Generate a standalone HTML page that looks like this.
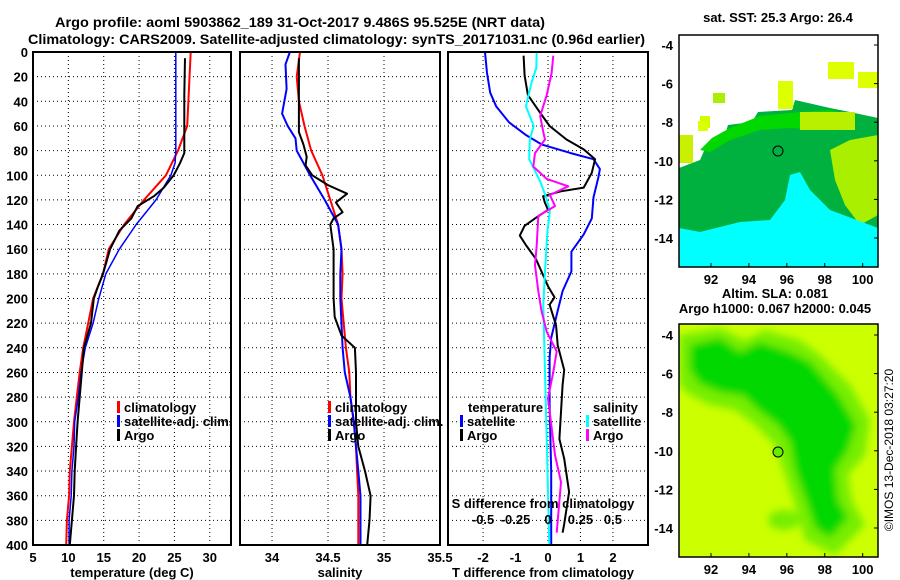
<!DOCTYPE html>
<html><head><meta charset="utf-8"><style>
html,body{margin:0;padding:0;background:#fff}
svg{display:block;font-family:"Liberation Sans",sans-serif;font-weight:bold}
</style></head><body>
<svg id="c" width="900" height="580" viewBox="0 0 900 580">
<text x="55" y="27" font-size="14" textLength="490" lengthAdjust="spacingAndGlyphs">Argo profile: aoml 5903862_189 31-Oct-2017 9.486S 95.525E (NRT data)</text>
<text x="28" y="44" font-size="14" textLength="617" lengthAdjust="spacingAndGlyphs">Climatology: CARS2009. Satellite-adjusted climatology: synTS_20171031.nc (0.96d earlier)</text>
<g id="maps">
 <text x="778" y="22" font-size="13" text-anchor="middle">sat. SST: 25.3 Argo: 26.4</text>
 <g>
  <rect x="679" y="35" width="199" height="232" fill="#fff"/>
  <polygon fill="#00b140" points="679,168 700,160 708,142 725,135 728,125 752,122 758,112 792,110 795,100 830,108 850,112 878,118 878,267 679,267"/>
  <polygon fill="#00d800" points="700,150 712,138 730,128 760,116 800,112 830,110 850,115 850,125 820,130 790,128 760,130 730,140 710,152"/>
  <polygon fill="#aaee00" points="830,150 850,140 878,135 878,215 860,225 845,205 835,180"/>
  <polygon fill="#00ffff" points="679,267 679,228 700,232 740,222 770,220 785,200 790,175 800,172 810,190 830,210 870,225 878,228 878,267"/>
  <rect x="679" y="135" width="14" height="28" fill="#c8f000"/>
  <rect x="700" y="116" width="10" height="12" fill="#ccff00"/>
  <rect x="713" y="93" width="12" height="10" fill="#aaee00"/>
  <rect x="698" y="121" width="10" height="10" fill="#ddff00"/>
  <rect x="778" y="81" width="15" height="28" fill="#ddff00"/>
  <rect x="828" y="62" width="26" height="17" fill="#ddff00"/>
  <rect x="858" y="72" width="20" height="16" fill="#ddff00"/>
  <rect x="800" y="112" width="55" height="18" fill="#b8f000"/>
  <circle cx="778" cy="151" r="5" fill="none" stroke="#000" stroke-width="1"/>
  <rect x="679" y="35" width="199" height="232" fill="none" stroke="#000" stroke-width="1.5"/>
 </g>
 <text x="775" y="298" font-size="13" text-anchor="middle">Altim. SLA: 0.081</text>
 <text x="775" y="313" font-size="13" text-anchor="middle">Argo h1000: 0.067 h2000: 0.045</text>
 <g>
  <defs><filter id="bl"><feGaussianBlur stdDeviation="4"/></filter><clipPath id="cp2"><rect x="679" y="324" width="199" height="233"/></clipPath></defs>
  <rect x="679" y="324" width="199" height="233" fill="#ccff00"/>
  <g clip-path="url(#cp2)" filter="url(#bl)">
   <polygon fill="#77ee00" points="679,335 720,328 745,340 765,330 800,340 820,355 850,385 870,420 865,455 848,475 852,500 865,525 835,555 805,540 795,505 785,475 775,445 755,425 735,410 710,405 690,395 679,385"/>
   <polygon fill="#00d800" points="690,345 720,338 740,352 760,342 790,352 810,362 838,395 856,425 848,450 835,470 838,500 848,518 830,538 815,528 805,498 795,470 790,442 778,425 758,410 744,396 720,392 700,384 690,370"/>
   <ellipse cx="784" cy="520" rx="16" ry="10" fill="#77ee00"/>
  </g>
  <circle cx="778" cy="452" r="5" fill="#66ee00" stroke="#000" stroke-width="1"/>
  <rect x="679" y="324" width="199" height="233" fill="none" stroke="#000" stroke-width="1.5"/>
 </g>
 <text transform="translate(893,450) rotate(-90)" font-size="12" font-weight="normal" text-anchor="middle">©IMOS 13-Dec-2018 03:27:20</text>
</g>
</svg>
<script>
// ---- profile data (depth in m) ----
const climDepth=[0,60,80,100,120,140,160,180,200,220,240,260,280,300,320,340,360,380,400];
const climTemp=[27.3,26.8,25.5,23.8,20.7,17.9,15.7,14.9,13.5,12.8,12.1,11.6,11.2,10.8,10.5,10.2,10.1,9.8,9.7];
const satDepth=[0,80,90,100,120,140,160,180,200,220,240,260,280,300,320,340,360,380,400];
const satTemp=[25.2,25.2,25.1,24.5,22.4,19.6,17.2,15.3,14.3,13.5,12.4,11.8,11.4,10.9,10.8,10.5,10.4,10.1,10.1];
const argoDepth=[5,35,82,90,100,110,117,125,135,145,160,180,190,200,220,240,260,280,300,320,340,360,380,400];
const argoTemp=[26.5,26.4,26.4,25.8,24.9,23.5,22.1,19.8,18.9,17.2,15.9,14.9,14.2,13.6,13.2,12.2,11.9,11.6,11.3,11.1,10.9,10.8,10.5,10.2];
const climSalDepth=[0,20,40,60,80,100,120,140,160,180,200,220,240,260,280,300,320,340,360,380,400];
const climSal=[34.25,34.22,34.24,34.29,34.35,34.45,34.52,34.59,34.62,34.63,34.62,34.64,34.66,34.69,34.70,34.73,34.75,34.76,34.77,34.77,34.77];
const satSalDepth=[0,10,30,50,60,70,80,90,100,120,140,160,180,200,240,260,280,300,320,340,360,400];
const satSal=[34.16,34.12,34.13,34.09,34.14,34.21,34.22,34.28,34.34,34.47,34.59,34.62,34.61,34.61,34.63,34.65,34.70,34.73,34.75,34.77,34.79,34.79];
const argoSalDepth=[5,65,75,85,92,100,108,115,122,130,135,140,160,180,200,215,230,240,260,300,320,340,360,380,400];
const argoSal=[34.24,34.24,34.28,34.31,34.30,34.36,34.50,34.67,34.57,34.63,34.55,34.52,34.55,34.55,34.55,34.56,34.62,34.74,34.75,34.75,34.77,34.83,34.88,34.87,34.85];
const dTsatDepth=[0,17,33,44,57,67,75,82,87,95,102,118,135,148,162,178,194,210,232,248,286,340,400];
const dTsat=[-1.94,-1.88,-1.78,-1.6,-1.2,-0.7,-0.2,0.7,1.4,1.6,1.55,1.4,1.35,1.1,0.72,0.72,0.45,0.3,0.1,0.05,0.05,0.1,0.1];
const dTargoDepth=[3,19,35,49,60,71,79,87,98,110,113,117,122,128,135,141,149,157,168,190,199,205,222,238,258,270,314,330,357,383,390];
const dTargo=[-0.75,-0.72,-0.62,-0.25,0.05,0.57,1.1,1.45,1.35,1.1,0.4,-0.15,-0.1,0,-0.4,-0.72,-0.87,-0.67,-0.37,0,0.2,0.05,0.25,0.3,0.5,0.45,0.35,0.5,0.65,0.5,0.45];
const dSsatDepth=[0,13,24,44,60,71,87,105,118,129,146,178,205,260,314,400];
const dSsat=[-0.087,-0.09,-0.125,-0.17,-0.11,-0.14,-0.145,-0.06,-0.015,0.015,-0.005,-0.023,-0.036,-0.023,-0.01,0.01];
const dSargoDepth=[3,17,35,52,65,71,82,93,103,109,116,125,133,157,173,194,210,227,243,260,281,327,349,390];
const dSargo=[0.041,0.028,-0.01,-0.06,-0.036,-0.023,-0.1,-0.113,-0.01,0.156,0.015,0.054,-0.075,-0.087,-0.1,-0.075,-0.05,-0.01,0.067,0.04,0,0.054,0.1,0.067];
const depthTicks=[0,20,40,60,80,100,120,140,160,180,200,220,240,260,280,300,320,340,360,380,400];
const tempTicks=[5,10,15,20,25,30];
const salTicks=["34","34.5","35","35.5"];
const dTTicks=["-2","-1","0","1","2"];
const dSTicks=["-0.5","-0.25","0","0.25","0.5"];
const lonTicks=[92,94,96,98,100];
const latTicks=[-4,-6,-8,-10,-12,-14];

const NS='http://www.w3.org/2000/svg';
const svgEl=document.getElementById('c');
function mk(tag,attrs,parent){const e=document.createElementNS(NS,tag);for(const k in attrs)e.setAttribute(k,attrs[k]);(parent||svgEl).appendChild(e);return e;}
const pTop=52,pBot=545;
const yD=d=>pTop+(d/400)*(pBot-pTop);
const P1={x0:33,x1:231,lo:5,hi:33};
const P2={x0:240,x1:440,lo:33.714,hi:35.5};
const P3={x0:448,x1:648,lo:-3.08,hi:3.08};
const sx=(p,v)=>p.x0+(v-p.lo)/(p.hi-p.lo)*(p.x1-p.x0);

function panel(name){
  const g=mk('g',{});
  
  
  return g;
}
function hgrid(g,p){
  depthTicks.forEach(d=>{ if(d>0&&d<400){const l=mk('line',{x1:p.x0,x2:p.x1,y1:yD(d),y2:yD(d),stroke:'#000','stroke-width':1,'stroke-dasharray':'1 3'},g);
    
    }});
}
function vgrid(g,x){const l=mk('line',{x1:x,x2:x,y1:pTop,y2:pBot,stroke:'#000','stroke-width':1,'stroke-dasharray':'1 3'},g);
  
  }
function frame(g,p){const r=mk('rect',{x:p.x0,y:pTop,width:p.x1-p.x0,height:pBot-pTop,fill:'none',stroke:'#000','stroke-width':2},g);
  
  }
function series(g,p,depths,vals,color,w,name,scale){
  const pts=depths.map((d,i)=>sx(p,vals[i]*(scale||1)).toFixed(1)+','+yD(d).toFixed(1)).join(' ');
  const l=mk('polyline',{points:pts,fill:'none',stroke:color,'stroke-width':w,'stroke-linejoin':'round'},g);
  
  
}
function txt(g,x,y,s,anchor,name,size){const t=mk('text',{x:x,y:y,'font-size':size||13,'text-anchor':anchor||'start'},g);t.textContent=s;
  
  return t;}
function legend(g,x,y,color,label){
  const b=mk('rect',{x:x,y:y-11,width:3,height:12,fill:color},g);
  
  
  txt(g,x+7,y,label,'start','legend-entry');
}

// Panel 1
const g1=panel('temperature-panel');
hgrid(g1,P1);
tempTicks.slice(1).forEach(v=>vgrid(g1,sx(P1,v)));
series(g1,P1,climDepth,climTemp,'#ff0000',2,'climatology-temp-line');
series(g1,P1,satDepth,satTemp,'#0000ff',1.5,'satellite-temp-line');
series(g1,P1,argoDepth,argoTemp,'#000',2,'argo-temp-line');
frame(g1,P1);
depthTicks.forEach(d=>txt(g1,28,yD(d)+5,String(d),'end','depth-tick-label'));
tempTicks.forEach(v=>txt(g1,sx(P1,v),562,String(v),'middle','temp-tick-label'));
txt(g1,132,577,'temperature (deg C)','middle','x-axis-title-temperature');
legend(g1,117,412,'#ff0000','climatology');
legend(g1,117,426,'#0000ff','satellite-adj. clim.');
legend(g1,117,440,'#000','Argo');

// Panel 2
const g2=panel('salinity-panel');
hgrid(g2,P2);
salTicks.slice(0,3).forEach(v=>vgrid(g2,sx(P2,+v)));
series(g2,P2,climSalDepth,climSal,'#ff0000',2,'climatology-sal-line');
series(g2,P2,satSalDepth,satSal,'#0000ff',2,'satellite-sal-line');
series(g2,P2,argoSalDepth,argoSal,'#000',2,'argo-sal-line');
frame(g2,P2);
salTicks.forEach(v=>txt(g2,sx(P2,+v),562,v,'middle','salinity-tick-label'));
txt(g2,340,577,'salinity','middle','x-axis-title-salinity');
legend(g2,328,412,'#ff0000','climatology');
legend(g2,328,426,'#0000ff','satellite-adj. clim.');
legend(g2,328,440,'#000','Argo');

// Panel 3
const g3=panel('difference-panel');
hgrid(g3,P3);
[-2,0,1,2].forEach(v=>vgrid(g3,sx(P3,v)));
series(g3,P3,dTsatDepth,dTsat,'#0000ff',2,'satellite-temp-diff-line');
series(g3,P3,dTargoDepth,dTargo,'#000',2,'argo-temp-diff-line');
series(g3,P3,dSsatDepth,dSsat,'#00ffff',2,'satellite-sal-diff-line',4);
series(g3,P3,dSargoDepth,dSargo,'#ff00ff',2,'argo-sal-diff-line',4);
frame(g3,P3);
dTTicks.forEach(v=>txt(g3,sx(P3,+v),562,v,'middle','t-diff-tick-label'));
dSTicks.forEach(v=>txt(g3,sx(P3,+v*4),524,v,'middle','s-diff-tick-label'));
txt(g3,543,508,'S difference from climatology','middle','s-diff-axis-title');
txt(g3,543,577,'T difference from climatology','middle','x-axis-title-t-diff');
txt(g3,468,412,'temperature','start','legend-title-temperature');
legend(g3,460,426,'#0000ff','satellite');
legend(g3,460,440,'#000','Argo');
txt(g3,593,412,'salinity','start','legend-title-salinity');
legend(g3,586,426,'#00ffff','satellite');
legend(g3,586,440,'#ff00ff','Argo');

// map axes
const lonX=l=>711+(l-92)*18.96;
const gm=document.getElementById('maps');
[[35,267,279],[324,557,569]].forEach(([y0,y1,ly],k)=>{
  const latY=la=>(k?335:45)+(-4-la)*19.3;
  lonTicks.forEach(l=>{txt(gm,lonX(l),ly+5,String(l),'middle','lon-tick-label');
    mk('line',{x1:lonX(l),x2:lonX(l),y1:y1,y2:y1-4,stroke:'#000'},gm);});
  latTicks.forEach(la=>{txt(gm,673,latY(la)+5,String(la),'end','lat-tick-label');
    mk('line',{x1:878,x2:874,y1:latY(la),y2:latY(la),stroke:'#000'},gm);});
});
</script>
</body></html>
